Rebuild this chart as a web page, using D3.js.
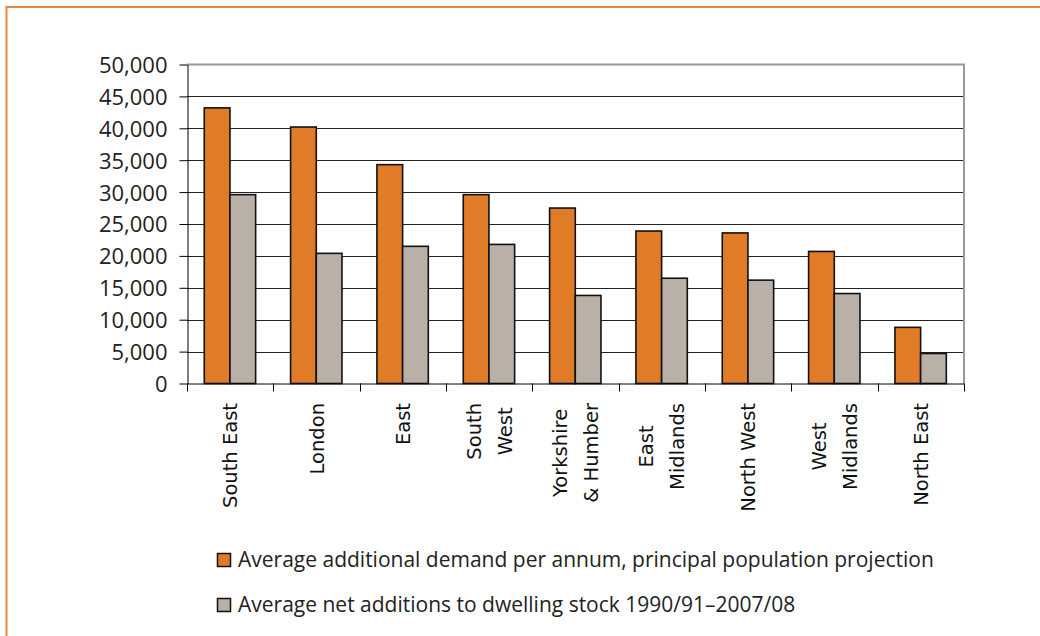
<!DOCTYPE html>
<html>
<head>
<meta charset="utf-8">
<script src="https://cdn.jsdelivr.net/npm/d3@7"></script>
<style>
  body { margin: 0; background: #fff; }
  svg { display: block; }
</style>
</head>
<body>
<svg id="chart" width="1040" height="636"></svg>
<script>
const regions = [
  ["South East"], ["London"], ["East"], ["South", "West"], ["Yorkshire", "& Humber"],
  ["East", "Midlands"], ["North West"], ["West", "Midlands"], ["North East"]
];
const demand = [43200, 40200, 34300, 29600, 27500, 23900, 23600, 20700, 8800];
const additions = [29600, 20400, 21500, 21800, 13800, 16500, 16200, 14100, 4700];
const yTicks = [0, 5000, 10000, 15000, 20000, 25000, 30000, 35000, 40000, 45000, 50000];
const seriesNames = [
  "Average additional demand per annum, principal population projection",
  "Average net additions to dwelling stock 1990/91\u20132007/08"
];
const seriesColors = ["#E07B28", "#B9B0A7"];

const plot = { left: 187, right: 964, top: 64.5, bottom: 383.5 };
const svg = d3.select("#chart");

// orange frame, top and left only
svg.append("path")
  .attr("d", "M6.5,636 V7 H1040")
  .attr("fill", "none")
  .attr("stroke", "#E8893B")
  .attr("stroke-width", 2);

const keys = regions.map((d) => d.join(" "));
const x0 = d3.scaleBand().domain(keys).range([plot.left, plot.right]);
const x1 = d3.scaleBand().domain([0, 1])
  .range([x0.bandwidth() * 0.2, x0.bandwidth() * 0.795]);
const y = d3.scaleLinear().domain([0, 50000]).range([plot.bottom, plot.top]);

// gridlines
svg.append("g")
  .selectAll("line")
  .data(yTicks.filter((t) => t > 0 && t < 50000))
  .enter()
  .append("line")
  .attr("x1", plot.left)
  .attr("x2", plot.right)
  .attr("y1", (d) => Math.round(y(d)) + 0.5)
  .attr("y2", (d) => Math.round(y(d)) + 0.5)
  .attr("stroke", "#222")
  .attr("stroke-width", 1.2);

// plot border top and right
svg.append("path")
  .attr("d", `M${plot.left},${plot.top} H${plot.right} V${plot.bottom}`)
  .attr("fill", "none")
  .attr("stroke", "#999")
  .attr("stroke-width", 2);

const data = keys.map((k, i) => ({ key: k, values: [demand[i], additions[i]] }));

const groups = svg.append("g")
  .selectAll("g")
  .data(data)
  .enter()
  .append("g")
  .attr("transform", (d) => `translate(${x0(d.key)},0)`);

groups.selectAll("rect")
  .data((d) => d.values.map((v, s) => ({ s, v })))
  .enter()
  .append("rect")
  .attr("x", (d) => x1(d.s))
  .attr("y", (d) => y(d.v))
  .attr("width", x1.bandwidth())
  .attr("height", (d) => y(0) - y(d.v))
  .attr("fill", (d) => seriesColors[d.s])
  .attr("stroke", "#111")
  .attr("stroke-width", 1.6);

// y axis
const yAxis = svg.append("g")
  .attr("transform", `translate(${plot.left + 0.5},0)`)
  .call(d3.axisLeft(y).tickValues(yTicks).tickSize(8).tickSizeOuter(0)
    .tickFormat(d3.format(",")));
yAxis.select(".domain").attr("stroke", "#000");
yAxis.selectAll(".tick line").attr("stroke", "#000");
yAxis.selectAll(".tick text")
  .attr("x", -20)
  .attr("dy", "0.36em")
  .style("font-family", "'Open Sans', sans-serif")
  .style("font-size", "22px")
  .attr("fill", "#222");

// x axis line and ticks at category boundaries
const xAxis = svg.append("g");
xAxis.append("line")
  .attr("x1", plot.left)
  .attr("x2", plot.right)
  .attr("y1", plot.bottom + 0.5)
  .attr("y2", plot.bottom + 0.5)
  .attr("stroke", "#000");
const bounds = keys.map((k) => x0(k)).concat([plot.right]);
xAxis.selectAll(".xt")
  .data(bounds)
  .enter()
  .append("line")
  .attr("x1", (d) => Math.round(d) + 0.5)
  .attr("x2", (d) => Math.round(d) + 0.5)
  .attr("y1", plot.bottom)
  .attr("y2", plot.bottom + 8)
  .attr("stroke", "#000");

// rotated category labels
const lab = svg.append("g")
  .selectAll("g")
  .data(regions)
  .enter()
  .append("g")
  .attr("transform", (d, i) => `translate(${x0(keys[i]) + x0.bandwidth() / 2},403) rotate(-90)`);

lab.each(function (lines) {
  const g = d3.select(this);
  const n = lines.length;
  const texts = lines.map((t, j) =>
    g.append("text")
      .attr("y", 7 + (j - (n - 1) / 2) * 31)
      .style("font-family", "'DejaVu Sans', sans-serif")
      .style("font-size", "19.5px")
      .attr("fill", "#111")
      .text(t)
  );
  if (n === 1) {
    texts[0].attr("text-anchor", "end").attr("x", 0);
  } else {
    const w = d3.max(texts, (t) => t.node().getComputedTextLength());
    texts.forEach((t) => t.attr("text-anchor", "middle").attr("x", -w / 2));
  }
});

// legend
const legend = svg.append("g")
  .selectAll("g")
  .data(seriesNames)
  .enter()
  .append("g")
  .attr("transform", (d, i) => `translate(217,${553 + i * 45})`);

legend.append("rect")
  .attr("x", 0.5)
  .attr("y", 0.5)
  .attr("width", 13)
  .attr("height", 13)
  .attr("fill", (d, i) => seriesColors[i])
  .attr("stroke", "#111")
  .attr("stroke-width", 1.5);

legend.append("text")
  .attr("x", 21)
  .attr("y", 14)
  .style("font-family", "'Open Sans', sans-serif")
  .style("font-size", "21px")
  .attr("fill", "#222")
  .text((d) => d);
</script>
</body>
</html>
